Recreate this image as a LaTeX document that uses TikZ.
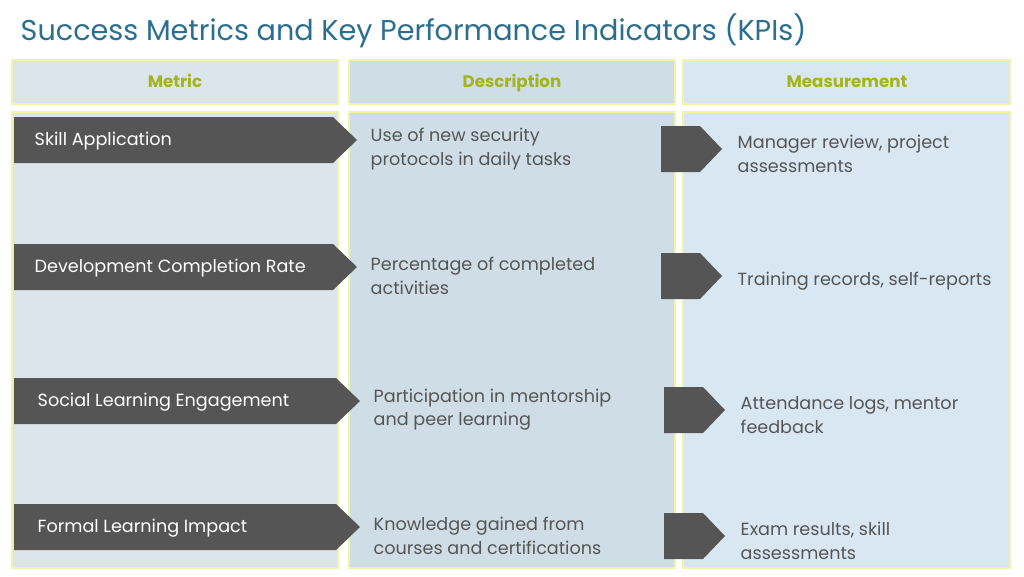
\documentclass[tikz,border=0pt]{standalone}
\usepackage{fontspec}
\setmainfont{Poppins}
\usetikzlibrary{positioning}
\definecolor{titleblue}{HTML}{2A6F90}
\definecolor{olive}{HTML}{A4B41C}
\definecolor{edgeyellow}{HTML}{F4F2A8}
\definecolor{colA}{HTML}{DCE5EB}
\definecolor{colB}{HTML}{CFDDE7}
\definecolor{colC}{HTML}{D9E7F3}
\definecolor{darkarrow}{HTML}{555555}
\definecolor{bodytext}{HTML}{555555}
\tikzset{
  colbox/.style={draw=edgeyellow, line width=1.5pt},
  headtext/.style={text=olive, text height=9pt, text depth=3pt, font=\fontsize{12.5}{15}\selectfont\bfseries},
  metrictext/.style={text=white, anchor=west, text height=9.5pt, text depth=3pt, font=\fontsize{13.2}{16}\selectfont},
  celltext/.style={text=bodytext, anchor=west, align=left, font=\fontsize{13.2}{17.5}\selectfont}
}
\begin{document}
\begin{tikzpicture}[x=0.75pt, y=-0.75pt]
    \useasboundingbox[fill=white] (0,0) rectangle (1024,576);
    \node[anchor=west, text=titleblue, font=\fontsize{21.5}{25}\selectfont] (title) at (16,31) {Success Metrics and Key Performance Indicators (KPIs)};
    % headers
    \draw[colbox, fill=colA] (12,60) rectangle (338,104);
    \draw[colbox, fill=colB] (349,60) rectangle (675,104);
    \draw[colbox, fill=colC] (683,60) rectangle (1010,104);
    \node[headtext] (hmetric) at (175,83) {Metric};
    \node[headtext] (hdesc) at (512,83) {Description};
    \node[headtext] (hmeas) at (847,83) {Measurement};
    % bodies
    \draw[colbox, fill=colA] (12,112) rectangle (338,568);
    \draw[colbox, fill=colB] (349,112) rectangle (675,568);
    \draw[colbox, fill=colC] (683,112) rectangle (1010,568);
    % rows
    \foreach \y/\dx/\metric/\desc/\meas in {
        140/0/Skill Application/{Use of new security\\protocols in daily tasks}/{Manager review, project\\assessments},
        267/0/Development Completion Rate/{Percentage of completed\\activities}/{Training records, self-reports},
        401/3/Social Learning Engagement/{Participation in mentorship\\and peer learning}/{Attendance logs, mentor\\feedback},
        527/3/Formal Learning Impact/{Knowledge gained from\\courses and certifications}/{Exam results, skill\\assessments}} {
        \fill[darkarrow] (14,\y-23) -- (333+\dx,\y-23) -- (357+\dx,\y) -- (333+\dx,\y+23) -- (14,\y+23) -- cycle;
        \node[metrictext] at (30+\dx,\y+1) {\metric};
        \node[celltext] at (366+\dx,\y+9) {\desc};
        \fill[darkarrow] (661+\dx,\y-14) -- (700+\dx,\y-14) -- (722+\dx,\y+9) -- (700+\dx,\y+32) -- (661+\dx,\y+32) -- cycle;
        \node[celltext] at (733+\dx,\y+14) {\meas};
    }
\end{tikzpicture}
\end{document}
